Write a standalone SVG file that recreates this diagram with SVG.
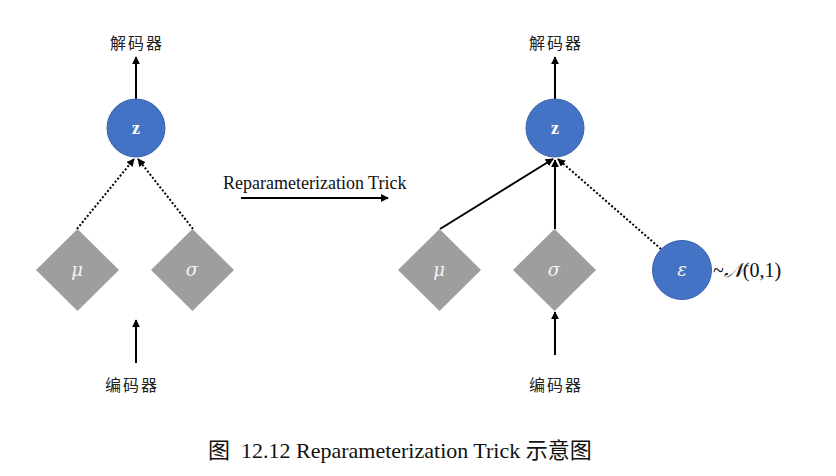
<svg xmlns="http://www.w3.org/2000/svg" width="836" height="476" viewBox="0 0 836 476">
<style>
.cn{font-family:"Noto Sans CJK SC",sans-serif;font-size:16px;fill:#222;text-anchor:middle;letter-spacing:2px}
.circ{fill:#4472C4;stroke:#3A62AA;stroke-width:1}
.dia{fill:#9E9E9E}
.zl{font-family:"Liberation Serif",serif;font-size:18px;fill:#fff;text-anchor:middle;font-weight:bold}
.gl{font-family:"DejaVu Serif","Liberation Serif",serif;font-style:italic;font-size:18px;fill:#f4f4f4;text-anchor:middle}
.solid{stroke:#000;stroke-width:2;fill:none}
.dot{stroke:#000;stroke-width:2;fill:none;stroke-dasharray:2 2}
.ser{font-family:"Liberation Serif",serif;fill:#111}
</style>
<defs>
<marker id="ah" viewBox="0 0 10 10" refX="9" refY="5" markerWidth="4" markerHeight="4" orient="auto" markerUnits="strokeWidth">
<path d="M0,0 L10,5 L0,10 z" fill="#000"/>
</marker>
</defs>
<rect width="836" height="476" fill="#fff"/>

<g id="connectors">
<line class="solid" x1="136" y1="99" x2="136" y2="57" marker-end="url(#ah)"/>
<line class="dot" x1="77" y1="229" x2="134" y2="159" marker-end="url(#ah)"/>
<line class="dot" x1="193" y1="229" x2="138" y2="159" marker-end="url(#ah)"/>
<line class="solid" x1="136" y1="363" x2="136" y2="320" marker-end="url(#ah)"/>
<line class="solid" x1="241" y1="198" x2="388" y2="198" marker-end="url(#ah)"/>
<line class="solid" x1="555" y1="99" x2="555" y2="57" marker-end="url(#ah)"/>
<line class="solid" x1="440" y1="229" x2="553" y2="159" marker-end="url(#ah)"/>
<line class="solid" x1="555" y1="229" x2="555" y2="160" marker-end="url(#ah)"/>
<line class="dot" x1="661" y1="249" x2="558" y2="159" marker-end="url(#ah)"/>
<line class="solid" x1="555" y1="355" x2="555" y2="312" marker-end="url(#ah)"/>
</g>

<g id="dec-left"><text class="cn" x="137" y="49">解码器</text></g>
<g id="z-left"><circle class="circ" cx="136" cy="128" r="29"/><text class="zl" x="136" y="134">z</text></g>
<g id="mu-left"><polygon class="dia" points="77.5,229 119,270 77.5,311 36,270"/><text class="gl" x="77" y="276">μ</text></g>
<g id="sigma-left"><polygon class="dia" points="192.5,229 234,270 192.5,311 151,270"/><text class="gl" x="192" y="276">σ</text></g>
<g id="enc-left"><text class="cn" x="132" y="391">编码器</text></g>

<g id="trick-label"><text class="ser" x="223" y="189" font-size="18">Reparameterization Trick</text></g>

<g id="dec-right"><text class="cn" x="556" y="49">解码器</text></g>
<g id="z-right"><circle class="circ" cx="555" cy="128" r="29"/><text class="zl" x="555" y="134">z</text></g>
<g id="mu-right"><polygon class="dia" points="439.5,229 481,270 439.5,311 398,270"/><text class="gl" x="439" y="276">μ</text></g>
<g id="sigma-right"><polygon class="dia" points="554.5,229 596,270 554.5,311 513,270"/><text class="gl" x="554" y="276">σ</text></g>
<g id="eps"><circle class="circ" cx="682" cy="270" r="29.5"/><text class="gl" x="682" y="276">ε</text></g>
<g id="eps-dist"><text class="ser" x="713" y="277" font-size="20">~<tspan font-family="DejaVu Sans,sans-serif" font-style="italic">𝒩</tspan>(0,1)</text></g>
<g id="enc-right"><text class="cn" x="556" y="391">编码器</text></g>

<g id="caption"><text x="208" y="458" font-size="22" fill="#111" font-family="Liberation Serif,Noto Sans CJK SC,serif" xml:space="preserve">图  12.12 Reparameterization Trick 示意图</text></g>
</svg>
